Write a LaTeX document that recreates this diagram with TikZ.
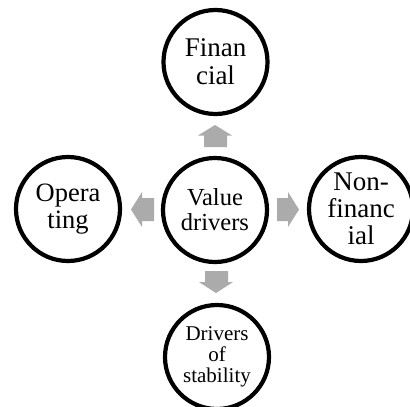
\documentclass[tikz,border=0pt]{standalone}
\usepackage{fontspec}
\setmainfont{Liberation Serif}
\begin{document}
\begin{tikzpicture}[x=1pt,y=-1pt,
  ring/.style={circle,draw=black,line width=4.2pt,minimum size=104pt,inner sep=0pt,align=center},
  blk/.style={fill=black!33,draw=none}]
\useasboundingbox (0,0) rectangle (410,407);
\node[ring,font=\fontsize{27}{28}\selectfont] (fin) at (215.5,62) {Finan\\cial};
\node[ring,font=\fontsize{24.5}{25}\selectfont] (val) at (215,210) {Value\\drivers};
\node[ring,font=\fontsize{26.5}{26.5}\selectfont] (ope) at (68,209) {Opera\\ting};
\node[ring,font=\fontsize{27}{27}\selectfont] (non) at (361,209) {Non-\\financ\\ial};
\node[ring,font=\fontsize{21}{21}\selectfont] (sta) at (217,357) {Drivers\\of\\stability};
% block arrows
\fill[blk] (215,125) -- (232,135.5) -- (227,135.5) -- (227,147) -- (204,147) -- (204,135.5) -- (198,135.5) -- cycle;
\fill[blk] (216,293) -- (233,282) -- (228,282) -- (228,271) -- (205,271) -- (205,282) -- (199,282) -- cycle;
\fill[blk] (131,209.5) -- (142,192) -- (142,198) -- (154,198) -- (154,221) -- (142,221) -- (142,227) -- cycle;
\fill[blk] (299,209.5) -- (288,192) -- (288,198) -- (277,198) -- (277,221) -- (288,221) -- (288,227) -- cycle;
\end{tikzpicture}
\end{document}
